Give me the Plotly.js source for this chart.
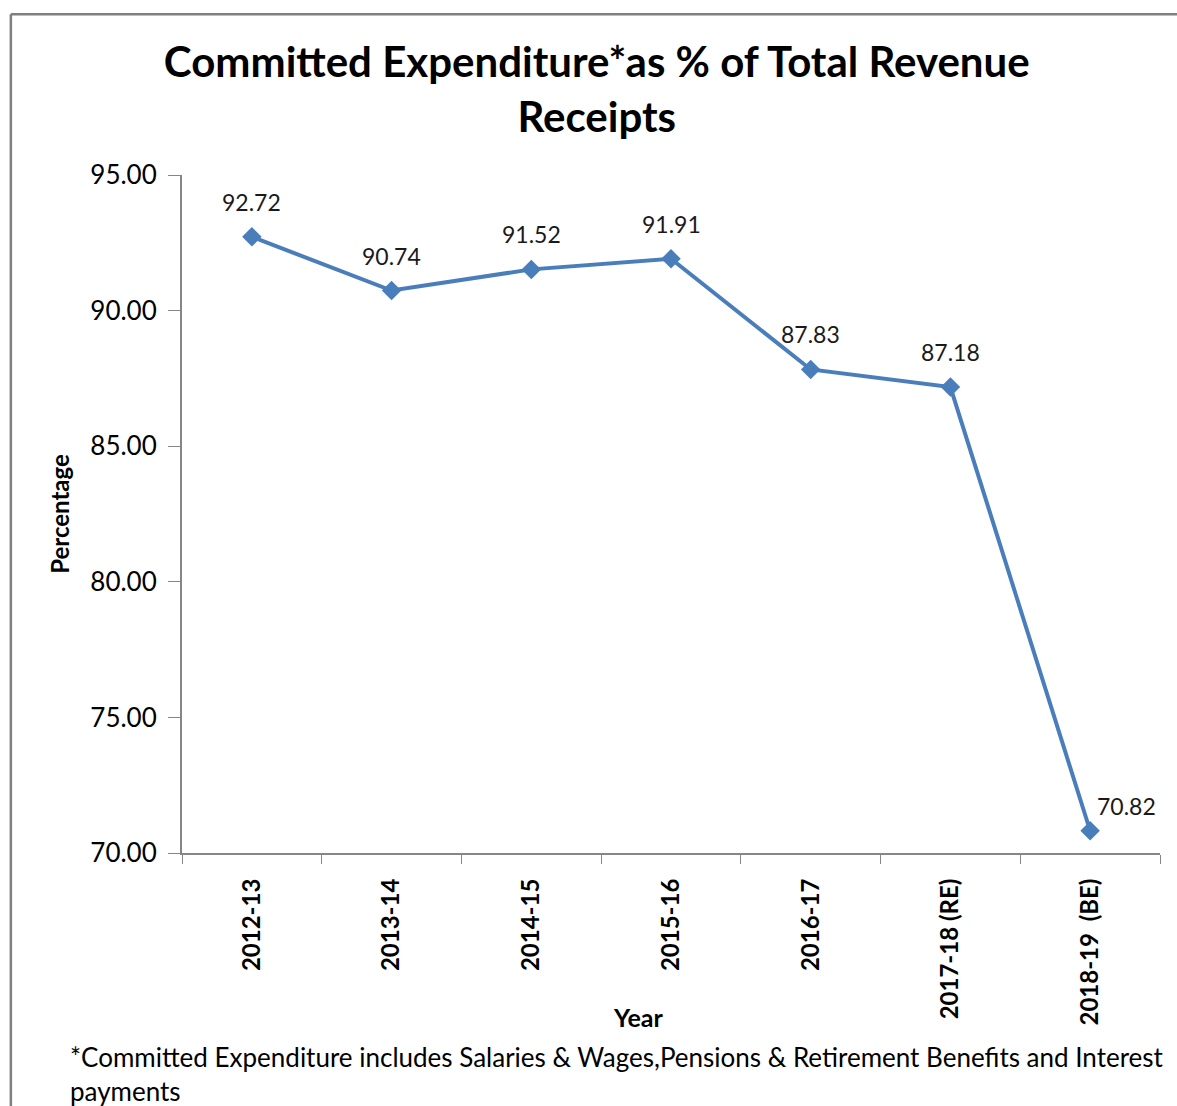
<!DOCTYPE html>
<html>
<head>
<meta charset="utf-8">
<script src="https://cdn.plot.ly/plotly-3.0.1.min.js"></script>
<style>html,body{margin:0;padding:0;background:#fff;}</style>
</head>
<body>
<div id="chart" style="width:1177px;height:1106px;"></div>
<script>
const years = ["2012-13", "2013-14", "2014-15", "2015-16", "2016-17", "2017-18 (RE)", "2018-19  (BE)"];
const committedPct = [92.72, 90.74, 91.52, 91.91, 87.83, 87.18, 70.82];
const labelText = ["92.72", "90.74", "91.52", "91.91", "87.83", "87.18", "70.82"];
const yTicks = [70, 75, 80, 85, 90, 95];

const FONT = "Lato, 'Open Sans', sans-serif";
const blue = "#4A7EBB";

const trace = {
  x: years,
  y: committedPct,
  type: "scatter",
  mode: "lines+markers",
  line: {color: blue, width: 4},
  marker: {symbol: "diamond", size: 15, color: blue},
  hoverinfo: "x+y"
};

const annotations = years.map((c, i) => {
  const last = i === years.length - 1;
  return {
    x: c, y: committedPct[i], xref: "x", yref: "y",
    text: labelText[i], showarrow: false,
    xshift: last ? 36 : 0, yshift: last ? 25 : 35,
    font: {family: FONT, size: 23, color: "#1a1a1a"}
  };
});
// x-axis title (placed as annotation: it sits beside the longest rotated labels)
annotations.push({
  xref: "paper", yref: "paper", x: 0.466, y: -0.2419,
  xanchor: "center", yanchor: "middle",
  text: "<b>Year</b>", showarrow: false,
  font: {family: FONT, size: 25, color: "#000"}
});
annotations.push({
  xref: "paper", yref: "paper", x: -0.1166, y: -0.275,
  xanchor: "left", yanchor: "top", align: "left",
  text: "*Committed Expenditure includes Salaries &amp; Wages,Pensions &amp; Retirement Benefits and Interest<br>payments",
  showarrow: false,
  font: {family: FONT, size: 26, color: "#000"}
});

const layout = {
  width: 1177, height: 1106,
  margin: {l: 182, r: 17, t: 175, b: 253},
  paper_bgcolor: "#fff", plot_bgcolor: "#fff",
  showlegend: false,
  title: {
    text: "<b>Committed Expenditure*as % of Total Revenue<br>Receipts</b>",
    x: 0.507, xanchor: "center", y: 0.93, yanchor: "top",
    font: {family: FONT, size: 42, color: "#000"}
  },
  xaxis: {
    type: "category",
    range: [-0.5, 6.5],
    showline: true, linecolor: "#868686", linewidth: 2,
    ticks: "outside", tickson: "boundaries", ticklen: 9, tickcolor: "#868686",
    tickangle: -90, ticklabelstandoff: 14,
    tickfont: {family: FONT, size: 24, color: "#000", weight: "bold"},
    showgrid: false, zeroline: false
  },
  yaxis: {
    range: [70, 95],
    tickvals: yTicks, tickformat: ".2f",
    showline: true, linecolor: "#868686", linewidth: 2,
    ticks: "outside", ticklen: 12, tickcolor: "#868686", ticklabelstandoff: 6,
    tickfont: {family: FONT, size: 26, color: "#000"},
    showgrid: false, zeroline: false,
    title: {text: "<b>Percentage</b>", font: {family: FONT, size: 24, color: "#000"}, standoff: 14}
  },
  shapes: [
    {type: "line", xref: "paper", yref: "paper", x0: -0.175, x1: 1.1, y0: 1.237, y1: 1.237, line: {color: "#7f7f7f", width: 2.5}},
    {type: "line", xref: "paper", yref: "paper", x0: -0.175, x1: -0.175, y0: 1.237, y1: -0.4, line: {color: "#7f7f7f", width: 2.5}}
  ],
  annotations: annotations
};

Plotly.newPlot("chart", [trace], layout, {displayModeBar: false, staticPlot: true});
</script>
</body>
</html>
